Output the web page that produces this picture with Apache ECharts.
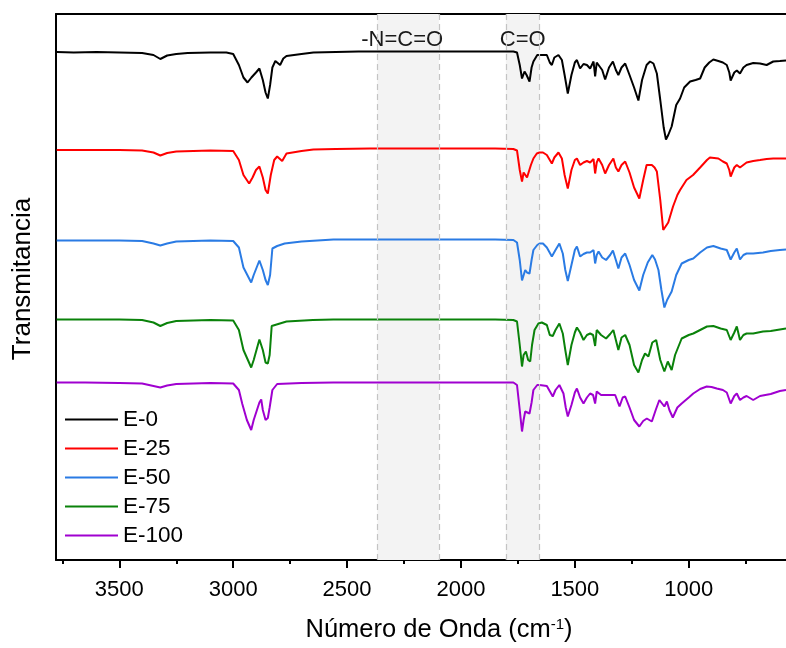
<!DOCTYPE html>
<html><head><meta charset="utf-8">
<script src="https://cdn.jsdelivr.net/npm/echarts@6/dist/echarts.min.js"></script>
<style>html,body{margin:0;padding:0;background:#fff}#c{width:786px;height:648px}</style>
</head><body><div id="c"></div>
<script>
const seriesNames = ['E-0', 'E-25', 'E-50', 'E-75', 'E-100'];
const seriesColors = ['#000000', '#ff0000', '#2a7be4', '#0a820a', '#a000d0'];

const E0 = [[3775,101.6],[3700,101.5],[3600,101.6],[3500,101.5],[3400,101.4],[3350,101.0],[3320,100.2],[3290,100.9],[3250,101.2],[3200,101.4],[3100,101.5],[3030,101.5],[3000,101.2],[2975,99],[2955,96.5],[2937,95.5],[2920,96.5],[2900,97.5],[2885,98.3],[2870,96],[2858,93.5],[2848,92.3],[2838,95],[2828,98.5],[2815,99.8],[2807,99.7],[2794,99],[2780,100.3],[2766,100.8],[2700,101.2],[2648,101.5],[2550,101.6],[2450,101.7],[2350,101.7],[2250,101.7],[2150,101.7],[2050,101.7],[1950,101.7],[1850,101.7],[1770,101.7],[1754,101.5],[1742,99],[1732,96.3],[1721,97.7],[1712,97],[1699,95.7],[1690,98.5],[1682,99.7],[1665,101],[1655,101],[1640,101],[1623,101],[1610,99.5],[1601,99],[1590,100.5],[1572,101],[1557,100],[1545,97],[1531,93.3],[1515,97],[1500,99.5],[1491,100],[1477,98.3],[1462,99.2],[1447,99],[1433,98.3],[1418,99.7],[1411,96.7],[1404,99.5],[1396,99.7],[1380,98],[1367,96.1],[1350,98.5],[1333,99.7],[1320,98],[1309,97],[1295,98.5],[1279,99.3],[1260,97],[1240,94.5],[1221,91.9],[1205,96],[1185,99],[1170,99.7],[1155,99.3],[1140,97.3],[1125,92],[1110,86.5],[1100,84.1],[1090,85],[1075,86.7],[1055,91],[1038,92.3],[1020,94.5],[994,95.7],[970,96],[950,96.3],[930,98.5],[910,99.5],[892,100.1],[870,99.8],[850,99.5],[833,99],[822,97.5],[816,95.9],[800,97.5],[789,97.9],[775,97.3],[760,98.5],[746,99],[717,99.4],[687,99.3],[658,99],[629,99.7],[600,99.8],[573,99.9]];

const E25 = [[3775,82],[3600,82],[3500,82],[3400,81.9],[3350,81.5],[3320,80.9],[3290,81.4],[3250,81.7],[3100,81.9],[3000,81.8],[2975,80],[2955,77],[2930,75.3],[2915,76.5],[2900,78],[2885,78.7],[2870,76.5],[2858,74],[2848,73.3],[2835,77],[2820,80],[2807,80.7],[2785,79.8],[2766,81.3],[2700,81.8],[2648,82.1],[2550,82.2],[2400,82.3],[2200,82.3],[2000,82.3],[1850,82.3],[1770,82.2],[1754,81.9],[1742,78],[1732,75.7],[1725,77.5],[1721,77.7],[1710,76.5],[1704,76.3],[1693,79],[1682,80.3],[1667,81.3],[1655,81.5],[1640,81.5],[1623,81],[1601,79.3],[1590,80.5],[1572,81.5],[1557,80.3],[1545,77],[1531,74.3],[1515,78],[1500,80],[1491,80.3],[1477,79],[1462,79.5],[1447,79.8],[1433,79.5],[1418,80.2],[1411,77.3],[1404,79.5],[1396,80.3],[1380,79],[1367,77.3],[1350,79],[1331,80.3],[1320,78.5],[1309,77.7],[1295,79],[1279,79.7],[1260,77.5],[1240,74.5],[1217,72.3],[1200,76],[1185,79],[1162,79],[1150,78.5],[1140,77.7],[1125,72],[1112,66],[1104,65.8],[1090,67.5],[1069,70.7],[1050,73],[1038,74],[1010,76],[981,77],[950,78.5],[920,80],[907,80.5],[870,80.3],[850,79.7],[833,79.3],[822,78],[816,76.7],[800,78.5],[789,79],[775,78.5],[746,79.5],[717,79.8],[687,80],[658,80.2],[629,80.3],[573,80.3]];

const E50 = [[3775,63.9],[3600,63.9],[3500,63.9],[3400,63.8],[3350,63.3],[3320,62.9],[3290,63.3],[3250,63.7],[3100,63.9],[3000,63.8],[2975,62.5],[2955,58.5],[2921,55.5],[2910,57],[2885,59.9],[2870,58],[2858,56],[2848,55],[2838,57],[2828,62.3],[2807,62.8],[2774,63.3],[2700,63.7],[2560,64.1],[2400,64.1],[2200,64.1],[2000,64.1],[1850,64.1],[1770,64],[1754,63.5],[1742,60],[1732,55.9],[1718,58],[1710,57.5],[1699,57.3],[1690,60],[1682,62],[1665,63],[1655,63.3],[1640,63.3],[1623,62.5],[1601,60.7],[1585,62],[1568,63.3],[1553,61.3],[1542,58],[1531,55.8],[1515,59],[1500,62],[1491,62.7],[1477,60.7],[1462,61.2],[1447,61.5],[1433,61.5],[1418,62],[1411,59.3],[1404,61],[1396,61.7],[1380,60.5],[1363,60],[1345,61],[1333,61.9],[1320,60],[1309,58.3],[1295,60.5],[1279,61.3],[1260,59],[1240,56],[1217,53.9],[1200,57],[1180,59.5],[1160,61],[1148,60.1],[1133,58],[1120,54],[1107,50.5],[1095,52],[1075,53.7],[1055,57],[1031,59.3],[1000,60],[980,60.3],[950,61.5],[920,62.5],[892,62.8],[860,62.3],[833,62],[816,60.1],[800,61.5],[789,62.3],[775,60.1],[760,61],[746,61.3],[717,61.3],[674,61.5],[640,61.8],[600,62],[573,62.1]];

const E75 = [[3775,48.1],[3600,48.1],[3500,48.1],[3400,48],[3350,47.5],[3320,46.8],[3290,47.4],[3250,47.8],[3100,48],[3000,47.9],[2975,46],[2955,42],[2921,38.5],[2910,40],[2885,44.1],[2870,42],[2858,39.5],[2848,39.3],[2840,41],[2831,46.8],[2766,47.7],[2650,48],[2560,48.1],[2400,48.1],[2200,48.1],[2000,48.1],[1850,48.1],[1770,48],[1754,47.7],[1742,43],[1732,38.7],[1725,41],[1715,41.7],[1705,40],[1696,39.7],[1688,43],[1677,46],[1660,47.3],[1645,47.5],[1623,47],[1610,45],[1597,44.8],[1585,46],[1568,47.3],[1553,45.3],[1542,42],[1531,39],[1515,43],[1500,45.5],[1491,46.5],[1477,45.5],[1462,44],[1447,45],[1433,45.3],[1420,45],[1411,42.8],[1404,46],[1385,45],[1363,44.3],[1345,45.2],[1331,46],[1320,44],[1309,42],[1295,44.5],[1279,45],[1260,43],[1240,39],[1221,37.5],[1205,40],[1192,41.3],[1177,40.7],[1160,43.5],[1143,44],[1125,40],[1107,37.7],[1092,39.7],[1085,39],[1075,38],[1060,41],[1031,44.3],[1000,45],[980,45.3],[950,46],[920,46.7],[892,46.8],[860,46.3],[833,46],[816,44],[800,45.5],[789,46.7],[775,44],[760,45],[746,45.3],[717,45.3],[674,45.7],[640,45.8],[600,46.1],[573,46.3]];

const E100 = [[3775,35.5],[3650,35.5],[3500,35.4],[3400,35.3],[3350,34.8],[3320,34.5],[3290,34.9],[3250,35.2],[3100,35.4],[3000,35.3],[2975,34],[2960,31.2],[2940,28],[2921,26],[2910,28],[2885,31.5],[2877,32.1],[2870,30],[2858,28],[2848,28.4],[2840,30.5],[2828,34],[2807,35.2],[2700,35.4],[2560,35.5],[2400,35.5],[2200,35.5],[2000,35.5],[1850,35.5],[1770,35.5],[1754,35],[1742,30],[1732,25.7],[1725,28],[1718,29.7],[1710,29.5],[1699,29.3],[1690,31.5],[1682,34],[1665,35],[1655,35],[1623,34.8],[1597,32.7],[1585,34],[1568,35],[1550,33.3],[1540,30.5],[1531,28.7],[1515,31],[1500,33.5],[1491,34.3],[1477,32.5],[1462,31.3],[1447,32.5],[1433,33.3],[1420,33],[1411,31.3],[1404,33.7],[1385,33],[1367,33],[1345,33],[1323,33],[1304,30.7],[1290,32.5],[1279,32.7],[1260,30.5],[1240,28],[1217,26.7],[1200,27.8],[1184,28.3],[1162,27.7],[1145,30],[1129,32],[1107,30.7],[1096,31.7],[1085,30],[1070,28.5],[1050,30.5],[1031,31.3],[1000,32.5],[980,33.3],[950,34.2],[921,34.7],[900,34.6],[877,34.3],[850,34],[833,33.5],[816,31.3],[800,32.8],[789,33.3],[775,32],[760,32.5],[746,32.8],[717,32],[687,32.8],[640,33.2],[600,33.8],[573,34]];

const seriesData = [E0, E25, E50, E75, E100];

const majorTicks = [1000, 1500, 2000, 2500, 3000, 3500];
const minorTicks = [750, 1250, 1750, 2250, 2750, 3250, 3750];
const bandEdges = [[2367, 2097], [1803, 1655]];
const bandLabels = ['-N=C=O', 'C=O'];
const xMin = 573, xMax = 3778, yMin = 0, yMax = 109.2;

const FONT = '"Liberation Sans", Arial, sans-serif';

const chart = echarts.init(document.getElementById('c'), null, {renderer: 'canvas'});

const lineSeries = seriesNames.map((n, i) => ({
  name: n, type: 'line', data: seriesData[i], symbol: 'none', showSymbol: false,
  lineStyle: {color: seriesColors[i], width: 2}, itemStyle: {color: seriesColors[i]},
  z: 3, animation: false, silent: true
}));

const bandSeries = {
  name: 'bands', type: 'line', data: [], z: 1, silent: true, animation: false,
  markArea: {
    silent: true,
    itemStyle: {color: '#f3f3f3', borderWidth: 0},
    label: {show: true, position: 'insideTop', distance: 15, fontFamily: FONT, fontSize: 22, color: '#1a1a1a'},
    data: bandEdges.map((b, i) => [
      {xAxis: b[0], name: bandLabels[i], label: {offset: [i === 0 ? -6 : 0, 0]}},
      {xAxis: b[1]}
    ])
  },
  markLine: {
    silent: true, symbol: 'none', label: {show: false},
    lineStyle: {color: '#c4c4c4', type: [6, 4], width: 1.2},
    data: bandEdges.flat().map(v => ({xAxis: v}))
  }
};

const option = {
  backgroundColor: '#fff',
  animation: false,
  grid: {left: 56, right: 0, top: 14, bottom: 88, containLabel: false},
  legend: {
    data: seriesNames, orient: 'vertical', left: 65, top: 408, padding: 0,
    icon: 'rect', itemWidth: 53, itemHeight: 2, itemGap: 6,
    textStyle: {fontFamily: FONT, fontSize: 22.5, color: '#000', lineHeight: 23}
  },
  xAxis: [
    {
      type: 'value', position: 'bottom', min: xMin, max: xMax, inverse: true,
      axisLine: {show: true, onZero: false, lineStyle: {color: '#000', width: 2}},
      axisTick: {show: true, length: 8, inside: false, lineStyle: {color: '#000', width: 2}, customValues: majorTicks},
      axisLabel: {show: true, customValues: majorTicks, formatter: v => String(v), fontFamily: FONT, fontSize: 22, color: '#000', margin: 19},
      splitLine: {show: false},
      name: 'Número de Onda (cm{sup|-1})', nameLocation: 'middle', nameGap: 57,
      nameTextStyle: {
        fontFamily: FONT, fontSize: 25.5, color: '#000', padding: [0, 0, 0, 36],
        rich: {sup: {fontFamily: FONT, fontSize: 15, color: '#000', verticalAlign: 'top'}}
      }
    },
    {
      type: 'value', position: 'bottom', min: xMin, max: xMax, inverse: true,
      axisLine: {show: false, onZero: false},
      axisTick: {show: true, length: 4, lineStyle: {color: '#000', width: 2}, customValues: minorTicks},
      axisLabel: {show: false}, splitLine: {show: false}
    },
    {
      type: 'value', position: 'top', min: xMin, max: xMax, inverse: true,
      axisLine: {show: true, onZero: false, lineStyle: {color: '#000', width: 2}},
      axisTick: {show: false}, axisLabel: {show: false}, splitLine: {show: false}
    }
  ],
  yAxis: {
    type: 'value', min: yMin, max: yMax,
    axisLine: {show: true, onZero: false, lineStyle: {color: '#000', width: 2}},
    axisTick: {show: false}, axisLabel: {show: false}, splitLine: {show: false},
    name: 'Transmitancia', nameLocation: 'middle', nameGap: 20, nameRotate: 90,
    nameTextStyle: {fontFamily: FONT, fontSize: 26, color: '#000', padding: [0, 0, 0, 16]}
  },
  series: [bandSeries].concat(lineSeries)
};
chart.setOption(option);
</script>
</body></html>
